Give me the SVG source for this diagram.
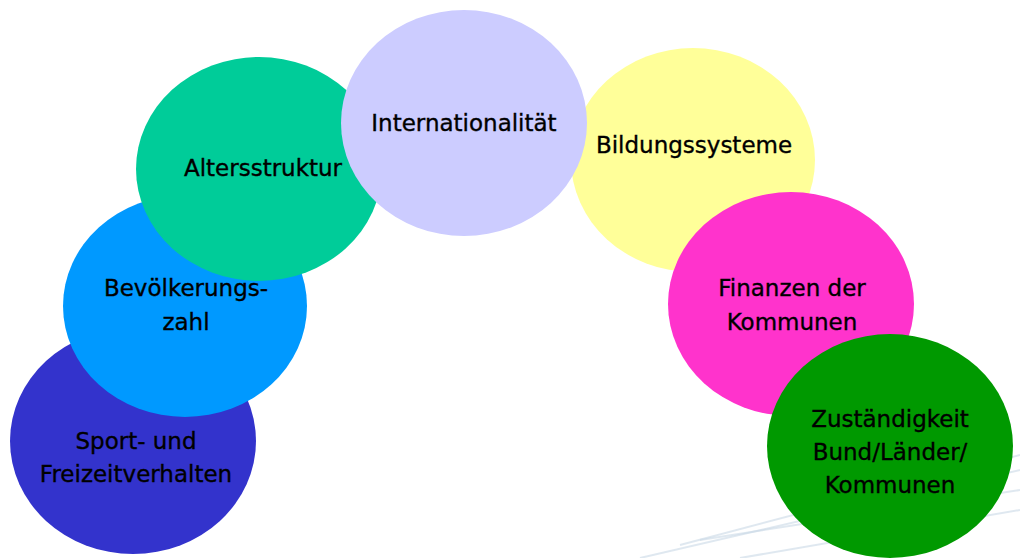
<svg xmlns="http://www.w3.org/2000/svg" width="1020" height="558" viewBox="0 0 1020 558">
  <style>
    .lbl { font-family: "DejaVu Sans", Verdana, sans-serif; font-size: 23px; fill: #000; stroke: #000; stroke-width: 0.35; text-anchor: middle; }
    .wm { fill: none; stroke: #c9d9e6; stroke-width: 2; opacity: 0.6; }
  </style>
  <rect width="1020" height="558" fill="#fff"/>
  <g id="watermark">
    <path class="wm" d="M640 558 L1020 470"/>
    <path class="wm" d="M680 545 L1020 455"/>
    <path class="wm" d="M700 540 L1020 490"/>
    <path class="wm" d="M740 558 L1020 510"/>
  </g>
  <g id="connectors"></g>
  <g id="sport">
    <ellipse cx="133" cy="441" rx="123" ry="113" fill="#3333CC"/>
    <text class="lbl" x="136" y="449">Sport- und</text>
    <text class="lbl" x="136" y="482">Freizeitverhalten</text>
  </g>
  <g id="bevoelkerung">
    <ellipse cx="185" cy="306" rx="122" ry="111" fill="#0099FF"/>
    <text class="lbl" x="186" y="296">Bevölkerungs-</text>
    <text class="lbl" x="186" y="330">zahl</text>
  </g>
  <g id="alter">
    <ellipse cx="259" cy="169" rx="123" ry="112" fill="#00CC99"/>
    <text class="lbl" x="263" y="176">Altersstruktur</text>
  </g>
  <g id="bildung">
    <ellipse cx="693" cy="160" rx="122" ry="112" fill="#FFFF99"/>
    <text class="lbl" x="694" y="153">Bildungssysteme</text>
  </g>
  <g id="international">
    <ellipse cx="464" cy="123" rx="123" ry="113" fill="#CCCCFF"/>
    <text class="lbl" x="464" y="131">Internationalität</text>
  </g>
  <g id="finanzen">
    <ellipse cx="791" cy="304" rx="123" ry="112" fill="#FF33CC"/>
    <text class="lbl" x="792" y="296">Finanzen der</text>
    <text class="lbl" x="792" y="330">Kommunen</text>
  </g>
  <g id="zustaendigkeit">
    <ellipse cx="890" cy="446" rx="123" ry="112" fill="#009900"/>
    <text class="lbl" x="890" y="427">Zuständigkeit</text>
    <text class="lbl" x="890" y="460">Bund/Länder/</text>
    <text class="lbl" x="890" y="493">Kommunen</text>
  </g>
</svg>
